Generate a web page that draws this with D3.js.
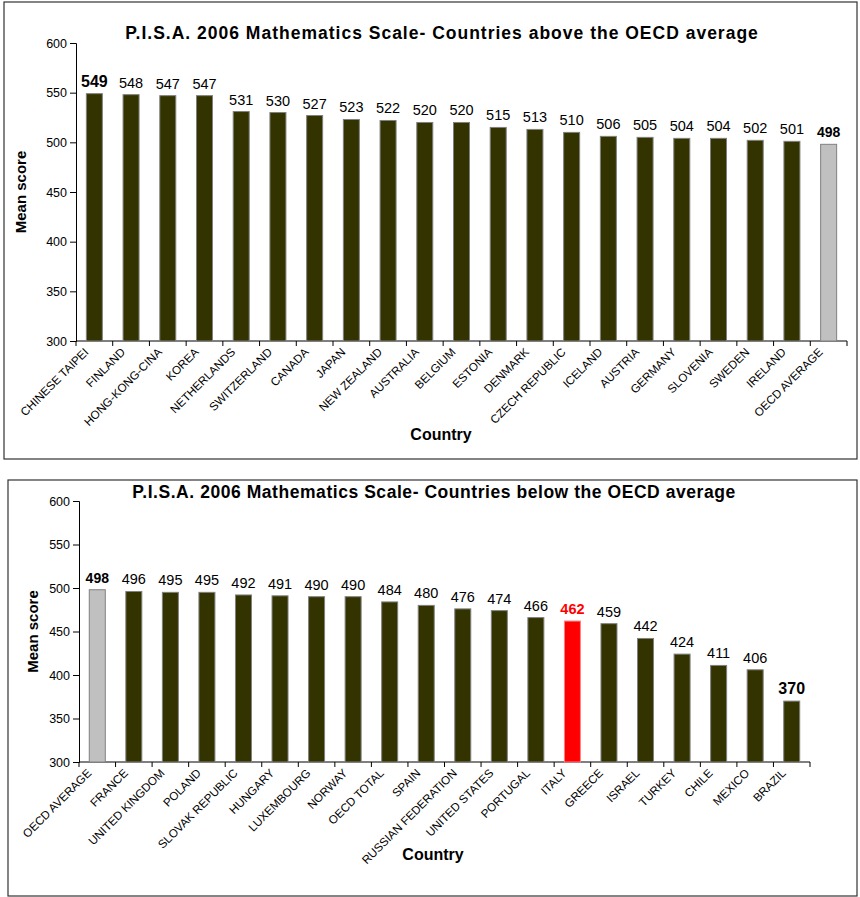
<!DOCTYPE html>
<html>
<head>
<meta charset="utf-8">
<script src="https://cdn.jsdelivr.net/npm/d3@7"></script>
<style>
  body { margin: 0; background: #fff; }
  svg { font-family: "Liberation Sans", Arial, sans-serif; }
</style>
</head>
<body>
<script>
// data for the two panels
const aboveCountries = ["CHINESE TAIPEI", "FINLAND", "HONG-KONG-CINA", "KOREA", "NETHERLANDS", "SWITZERLAND",
  "CANADA", "JAPAN", "NEW ZEALAND", "AUSTRALIA", "BELGIUM", "ESTONIA", "DENMARK", "CZECH REPUBLIC",
  "ICELAND", "AUSTRIA", "GERMANY", "SLOVENIA", "SWEDEN", "IRELAND", "OECD AVERAGE"];
const aboveScores = [549, 548, 547, 547, 531, 530, 527, 523, 522, 520, 520, 515, 513, 510, 506, 505, 504, 504, 502, 501, 498];

const belowCountries = ["OECD AVERAGE", "FRANCE", "UNITED KINGDOM", "POLAND", "SLOVAK REPUBLIC", "HUNGARY",
  "LUXEMBOURG", "NORWAY", "OECD TOTAL", "SPAIN", "RUSSIAN FEDERATION", "UNITED STATES", "PORTUGAL",
  "ITALY", "GREECE", "ISRAEL", "TURKEY", "CHILE", "MEXICO", "BRAZIL"];
const belowScores = [498, 496, 495, 495, 492, 491, 490, 490, 484, 480, 476, 474, 466, 462, 459, 442, 424, 411, 406, 370];

const yTicks = [300, 350, 400, 450, 500, 550, 600];

const svg = d3.select("body").append("svg")
  .attr("width", 860)
  .attr("height", 897);

// draws one framed bar chart
function drawPanel(opt) {
  const g = svg.append("g");

  // frame
  g.append("rect")
    .attr("x", opt.box[0]).attr("y", opt.box[1])
    .attr("width", opt.box[2]).attr("height", opt.box[3])
    .attr("fill", "none").attr("stroke", "#333").attr("stroke-width", 1.2);

  const x = d3.scaleBand()
    .domain(opt.countries)
    .range([opt.left, opt.right]);
  const y = d3.scaleLinear()
    .domain([300, 600])
    .range([opt.bottom, opt.top]);

  // y axis
  const yAxis = g.append("g")
    .attr("transform", `translate(${opt.left},0)`)
    .call(d3.axisLeft(y).tickValues(yTicks).tickSize(6).tickPadding(3));
  yAxis.selectAll("text").attr("font-size", 12.5).attr("fill", "#000");

  // x axis, ticks at the band edges
  const edges = d3.range(opt.countries.length + 1).map(i => opt.left + i * x.bandwidth());
  const xAxis = g.append("g");
  xAxis.append("line")
    .attr("x1", opt.left).attr("x2", opt.right)
    .attr("y1", opt.bottom).attr("y2", opt.bottom)
    .attr("stroke", "#000");
  xAxis.selectAll("line.tk")
    .data(edges)
    .enter().append("line")
    .attr("class", "tk")
    .attr("x1", d => d).attr("x2", d => d)
    .attr("y1", opt.bottom).attr("y2", opt.bottom + 5)
    .attr("stroke", "#000");
  xAxis.selectAll("text")
    .data(opt.countries)
    .enter().append("text")
    .attr("transform", d => `translate(${x(d) + x.bandwidth() / 2 - 8},${opt.bottom + 9}) rotate(-45)`)
    .attr("text-anchor", "end")
    .attr("dy", "0.35em")
    .attr("font-size", 11.6)
    .text(d => d);

  const barW = 16;
  const data = opt.countries.map((c, i) => ({ c: c, v: opt.scores[i] }));

  g.selectAll("rect.bar")
    .data(data)
    .enter().append("rect")
    .attr("class", "bar")
    .attr("x", d => x(d.c) + x.bandwidth() / 2 - barW / 2)
    .attr("y", d => y(d.v))
    .attr("width", barW)
    .attr("height", d => opt.bottom - y(d.v))
    .attr("fill", d => d.c === "OECD AVERAGE" ? "#c0c0c0" : d.c === "ITALY" ? "#ff0000" : "#333300")
    .attr("stroke", d => d.c === "ITALY" ? "#ff8080" : "#808080")
    .attr("stroke-width", 1);

  // value labels
  g.selectAll("text.val")
    .data(data)
    .enter().append("text")
    .attr("class", "val")
    .attr("x", d => x(d.c) + x.bandwidth() / 2)
    .attr("y", d => y(d.v) - 7)
    .attr("text-anchor", "middle")
    .attr("font-size", d => (opt.big[d.c] || 14.5))
    .attr("font-weight", d => opt.bold.includes(d.c) ? "bold" : "normal")
    .attr("fill", d => d.c === "ITALY" ? "#ff0000" : "#000")
    .text(d => d.v);

  // titles
  g.append("text")
    .attr("x", opt.titleX).attr("y", opt.titleY)
    .attr("text-anchor", "middle")
    .attr("font-size", 17.5).attr("font-weight", "bold")
    .attr("letter-spacing", opt.titleSpacing)
    .text(opt.title);
  g.append("text")
    .attr("transform", `translate(${opt.yTitleX},${(opt.top + opt.bottom) / 2}) rotate(-90)`)
    .attr("text-anchor", "middle")
    .attr("font-size", 15).attr("font-weight", "bold")
    .text("Mean score");
  g.append("text")
    .attr("x", opt.xTitleX).attr("y", opt.xTitleY)
    .attr("text-anchor", "middle")
    .attr("font-size", 16).attr("font-weight", "bold")
    .text("Country");
}

drawPanel({
  box: [4, 2, 853, 457],
  left: 76, right: 847, top: 43, bottom: 341,
  countries: aboveCountries, scores: aboveScores,
  bold: ["CHINESE TAIPEI", "OECD AVERAGE"],
  big: { "CHINESE TAIPEI": 16, "OECD AVERAGE": 14 },
  title: "P.I.S.A. 2006 Mathematics Scale- Countries above the OECD average",
  titleX: 442, titleY: 39, titleSpacing: 1,
  yTitleX: 26, xTitleX: 441, xTitleY: 440
});

drawPanel({
  box: [8, 480, 849, 416],
  left: 79, right: 810, top: 501, bottom: 762,
  countries: belowCountries, scores: belowScores,
  bold: ["OECD AVERAGE", "ITALY", "BRAZIL"],
  big: { "BRAZIL": 16, "ITALY": 14.5, "OECD AVERAGE": 14 },
  title: "P.I.S.A. 2006 Mathematics Scale- Countries below the OECD average",
  titleX: 434, titleY: 498, titleSpacing: 0.55,
  yTitleX: 38, xTitleX: 433, xTitleY: 860
});
</script>
</body>
</html>
